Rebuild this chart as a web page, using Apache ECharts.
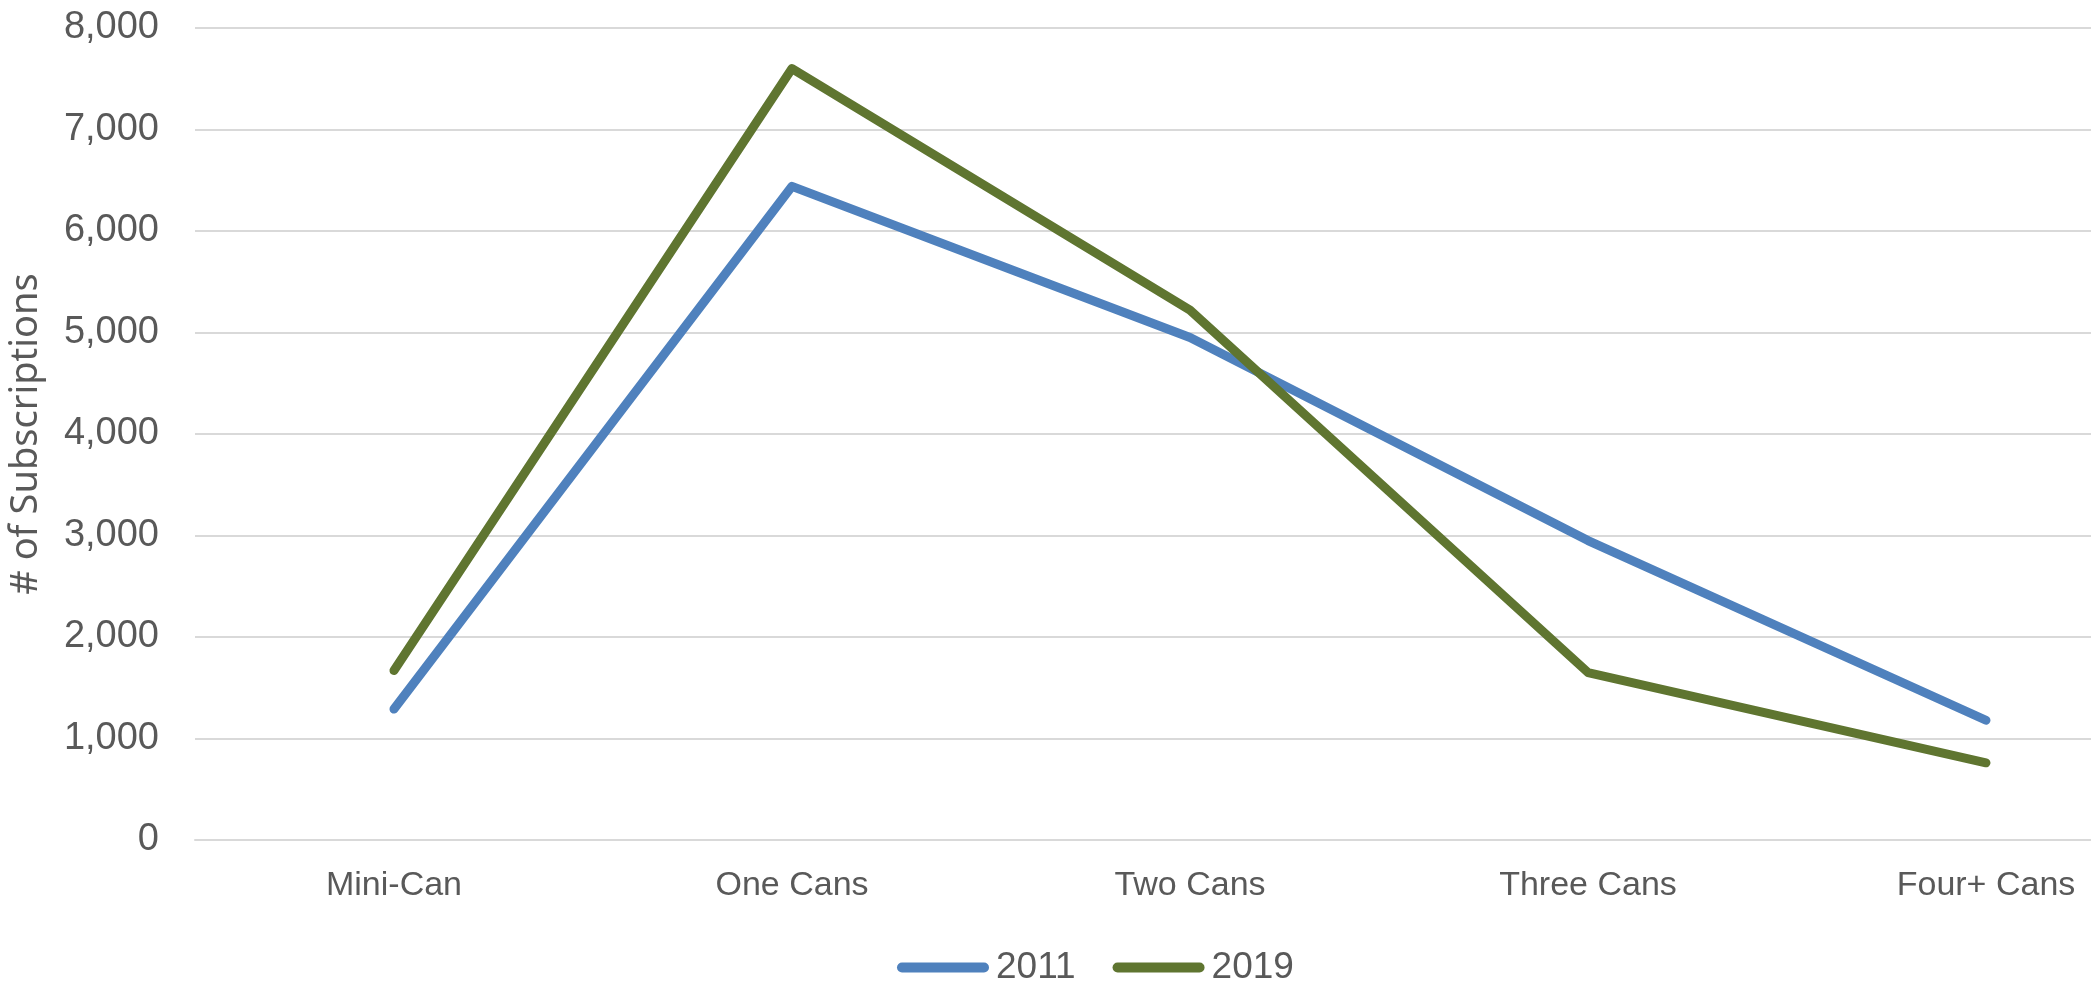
<!DOCTYPE html>
<html>
<head>
<meta charset="utf-8">
<script src="https://cdn.jsdelivr.net/npm/echarts@6/dist/echarts.min.js"></script>
<style>
html,body{margin:0;padding:0;background:#fff;overflow:hidden;}
#chart{width:2091px;height:996px;}
</style>
</head>
<body>
<div id="chart"></div>
<script>
const categories = ['Mini-Can', 'One Cans', 'Two Cans', 'Three Cans', 'Four+ Cans'];
const seriesNames = ['2011', '2019'];
const values2011 = [1290, 6440, 4950, 2950, 1180];
const values2019 = [1670, 7600, 5220, 1650, 760];
const yTicks = [0, 1000, 2000, 3000, 4000, 5000, 6000, 7000, 8000];
const yTitle = '# of Subscriptions';

const colors = ['#4F81BD', '#5F7530'];
const textColor = '#595959';
const chart = echarts.init(document.getElementById('chart'));
const pill = 'path://M5,0 H87 A5,5 0 0 1 87,10 H5 A5,5 0 0 1 5,0 Z';

chart.setOption({
  animation: false,
  backgroundColor: '#ffffff',
  grid: { left: 195, top: 28, width: 1990, height: 812, containLabel: false, outerBoundsMode: 'none' },
  legend: {
    data: seriesNames.map(n => ({ name: n, icon: pill })),
    left: 892, top: 944,
    itemWidth: 92, itemHeight: 10, itemGap: 37,
    textStyle: { fontFamily: 'Liberation Sans', fontSize: 37, color: textColor, lineHeight: 37, padding: [0, 0, 0, 2] }
  },
  xAxis: {
    type: 'category',
    data: categories,
    boundaryGap: true,
    axisLine: { show: true, lineStyle: { color: '#D9D9D9', width: 2 } },
    axisTick: { show: false },
    axisLabel: { fontFamily: 'Liberation Sans', fontSize: 34, color: textColor, margin: 29 },
    splitLine: { show: false }
  },
  yAxis: {
    type: 'value',
    min: yTicks[0], max: yTicks[yTicks.length - 1], interval: 1000,
    name: yTitle,
    nameLocation: 'middle',
    nameRotate: 90,
    nameGap: 150,
    nameTextStyle: { fontFamily: 'Noto Sans', fontSize: 38, color: textColor },
    axisLine: { show: false },
    axisTick: { show: false },
    axisLabel: {
      fontFamily: 'Liberation Sans', fontSize: 38, color: textColor, margin: 36,
      formatter: v => v.toLocaleString('en-US')
    },
    splitLine: { lineStyle: { color: '#D9D9D9', width: 2 } }
  },
  series: [
    { name: seriesNames[0], type: 'line', data: values2011, showSymbol: false, symbol: 'none',
      color: colors[0], lineStyle: { color: colors[0], width: 9, cap: 'round', join: 'round' } },
    { name: seriesNames[1], type: 'line', data: values2019, showSymbol: false, symbol: 'none',
      color: colors[1], lineStyle: { color: colors[1], width: 9, cap: 'round', join: 'round' } }
  ]
});
</script>
</body>
</html>
